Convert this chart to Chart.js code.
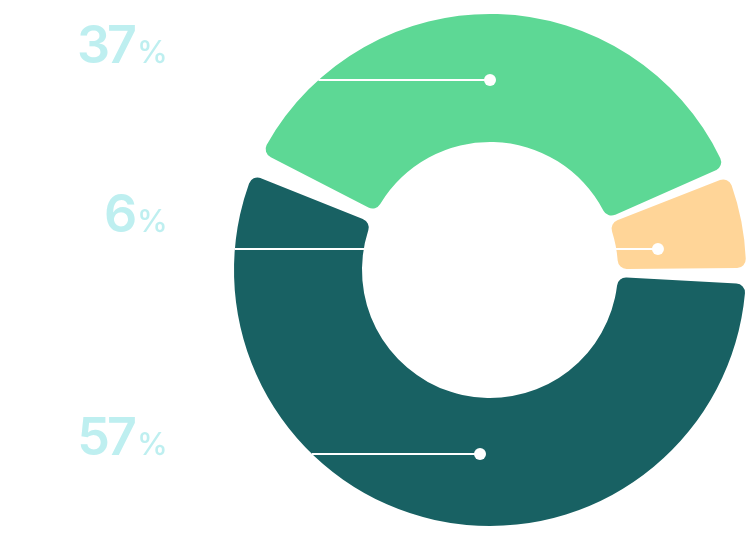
<!DOCTYPE html>
<html>
<head>
<meta charset="utf-8">
<script src="https://cdn.jsdelivr.net/npm/chart.js@4.4.1/dist/chart.umd.min.js"></script>
<style>
  html, body { margin: 0; padding: 0; background: #ffffff; }
  #wrap { width: 747px; height: 555px; position: relative; }
  canvas { display: block; }
</style>
</head>
<body>
<div id="wrap"><canvas id="chart" width="747" height="555"></canvas></div>
<script>
// ---- data ----
const categories = ['Segment A', 'Segment B', 'Segment C'];
const values = [37, 6, 57];
const valueLabels = ['37', '6', '57'];
const percentSign = '%';
const segmentColors = ['#5DD895', '#FFD598', '#186163'];

// ---- layout / styling (not data) ----
const SPACING = 12;
const labelColor = '#BEEFF0';
const labelInkRight = 165;
const labelGap = 5;
const labelBaselines = [63, 232, 455];
const leaderYFrac = [-0.742, -0.082, 0.719];   // y of leader relative to ring centre, in ring radii
const leaderDotXFrac = [0.0, 0.656, -0.039];   // x of dot relative to ring centre, in ring radii

const leaderPlugin = {
  id: 'leaders',
  afterDatasetsDraw(chart) {
    const ctx = chart.ctx;
    const meta = chart.getDatasetMeta(0);
    const arc = meta.data[0];
    if (!arc) return;
    const cx = arc.x, cy = arc.y;
    const R = arc.outerRadius + SPACING / 2;
    ctx.save();
    ctx.strokeStyle = '#ffffff';
    ctx.fillStyle = '#ffffff';
    ctx.lineWidth = 2;
    for (let i = 0; i < values.length; i++) {
      const y = Math.round(cy + leaderYFrac[i] * R);
      const dy = y - cy;
      const x0 = cx - Math.sqrt(Math.max(R * R - dy * dy, 0));
      const x1 = cx + leaderDotXFrac[i] * R;
      ctx.beginPath();
      ctx.moveTo(x0, y);
      ctx.lineTo(x1, y);
      ctx.stroke();
      ctx.beginPath();
      ctx.arc(x1, y, 6, 0, Math.PI * 2);
      ctx.fill();
    }
    // labels (placed by ink extents)
    ctx.fillStyle = labelColor;
    ctx.textBaseline = 'alphabetic';
    ctx.textAlign = 'left';
    for (let i = 0; i < valueLabels.length; i++) {
      ctx.font = '500 31px Inter';
      ctx.letterSpacing = '0px';
      const pm = ctx.measureText(percentSign);
      const pLeftInk = labelInkRight - pm.actualBoundingBoxRight - pm.actualBoundingBoxLeft;
      const px = labelInkRight - pm.actualBoundingBoxRight;
      ctx.fillText(percentSign, px, labelBaselines[i]);
      ctx.font = '600 52px Inter';
      ctx.letterSpacing = '-3px';
      const nm = ctx.measureText(valueLabels[i]);
      const nx = (px - pm.actualBoundingBoxLeft) - labelGap - nm.actualBoundingBoxRight - 0;
      ctx.fillText(valueLabels[i], nx + 0, labelBaselines[i]);
    }
    ctx.restore();
  }
};

new Chart(document.getElementById('chart'), {
  type: 'doughnut',
  data: {
    labels: categories,
    datasets: [{
      data: values,
      backgroundColor: segmentColors,
      borderWidth: 0,
      borderRadius: 9,
      spacing: SPACING,
      hoverOffset: 0
    }]
  },
  options: {
    responsive: false,
    animation: false,
    rotation: -64.9,
    cutout: (function () { const outer = (512 - SPACING) / 2; return ((128 - SPACING / 2) / outer * 100) + '%'; })(),
    layout: { padding: { left: 234, right: 1, top: 14, bottom: 29 } },
    plugins: {
      legend: { display: false },
      tooltip: { enabled: false }
    }
  },
  plugins: [leaderPlugin]
});
</script>
</body>
</html>
